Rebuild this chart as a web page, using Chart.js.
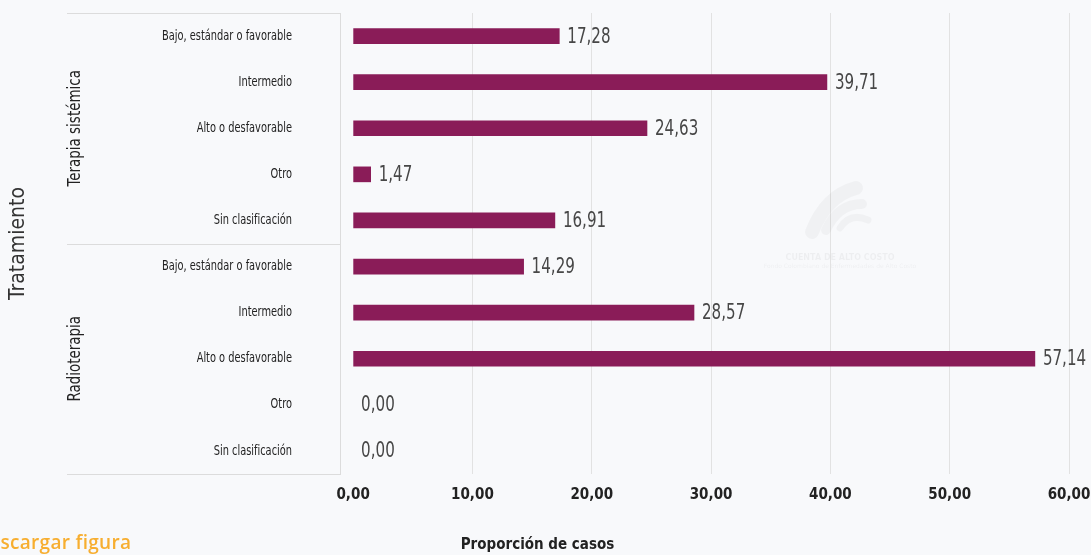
<!DOCTYPE html>
<html lang="es">
<head>
    <meta charset="UTF-8">
    <title>Proporción de casos por tratamiento</title>
    <!-- Chart.js -->
    <script src="https://cdn.jsdelivr.net/npm/chart.js"></script>
    <style>
        html, body {
            margin: 0;
            padding: 0;
            background: #f8f9fb;
        }
        .wrap {
            position: relative;
            width: 1091px;
            height: 555px;
            overflow: hidden;
        }
        .download {
            position: absolute;
            left: -25px;
            top: 529px;
            font-family: "Open Sans", sans-serif;
            font-weight: 600;
            font-size: 19px;
            letter-spacing: 0.3px;
            color: #f7ae30;
        }
    </style>
</head>
<body>
<div class="wrap">
    <canvas id="chart" width="1091" height="555"></canvas>
    <div class="download">Descargar figura</div>
</div>
<script>
    // Data
    const categories = [
        'Bajo, estándar o favorable', 'Intermedio', 'Alto o desfavorable', 'Otro', 'Sin clasificación',
        'Bajo, estándar o favorable', 'Intermedio', 'Alto o desfavorable', 'Otro', 'Sin clasificación'
    ];
    const groups = ['Terapia sistémica', 'Radioterapia'];
    const groupSize = 5;
    const values = [17.28, 39.71, 24.63, 1.47, 16.91, 14.29, 28.57, 57.14, 0.00, 0.00];
    const xTicks = [0, 10, 20, 30, 40, 50, 60];

    const narrow = '"DejaVu Sans Condensed", "Liberation Sans Narrow", sans-serif';
    const fmt = v => v.toFixed(2).replace('.', ',');

    // draw text squeezed horizontally (the original uses a very condensed face)
    function squeezed(ctx, text, x, y, sx, rotate) {
        ctx.save();
        ctx.translate(x, y);
        if (rotate) ctx.rotate(-Math.PI / 2);
        ctx.scale(sx, 1);
        ctx.fillText(text, 0, 0);
        ctx.restore();
    }

    // Bar value labels
    const valueLabels = {
        id: 'valueLabels',
        afterDatasetsDraw(chart) {
            const ctx = chart.ctx;
            const meta = chart.getDatasetMeta(0);
            ctx.save();
            ctx.font = '21px ' + narrow;
            ctx.fillStyle = '#474747';
            ctx.textAlign = 'left';
            ctx.textBaseline = 'middle';
            meta.data.forEach((bar, i) => {
                squeezed(ctx, fmt(values[i]), bar.x + 8, bar.y + 1, 0.8);
            });
            ctx.restore();
        }
    };

    // Category labels, group frame, group names, x title and faint watermark
    const groupFrame = {
        id: 'groupFrame',
        beforeDatasetsDraw(chart) {
            const ctx = chart.ctx;
            ctx.save();
            ctx.strokeStyle = 'rgba(0,0,0,0.03)';
            ctx.lineCap = 'round';
            [[0, 14], [1, 10], [2, 7]].forEach(([k, w]) => {
                ctx.lineWidth = w;
                ctx.beginPath();
                ctx.moveTo(812 + k * 14, 232 - k * 2);
                ctx.quadraticCurveTo(826 + k * 12, 196 + k * 8, 856 + k * 6, 188 + k * 16);
                ctx.stroke();
            });
            ctx.fillStyle = 'rgba(0,0,0,0.045)';
            ctx.font = 'bold 8px "DejaVu Sans", sans-serif';
            ctx.textAlign = 'center';
            ctx.fillText('CUENTA DE ALTO COSTO', 840, 260);
            ctx.font = '6px "DejaVu Sans", sans-serif';
            ctx.fillText('Fondo Colombiano de Enfermedades de Alto Costo', 840, 268);
            ctx.restore();
        },
        afterDraw(chart) {
            const ctx = chart.ctx;
            const area = chart.chartArea;
            const y = chart.scales.y;
            const left = area.left - 273;
            const bounds = [area.top];
            for (let g = 1; g < groups.length; g++) {
                bounds.push((y.getPixelForValue(g * groupSize - 1) + y.getPixelForValue(g * groupSize)) / 2);
            }
            bounds.push(area.bottom);

            ctx.save();
            ctx.strokeStyle = '#dcdcdc';
            ctx.lineWidth = 1;
            bounds.forEach(b => {
                ctx.beginPath();
                ctx.moveTo(left, Math.round(b) + 0.5);
                ctx.lineTo(area.left, Math.round(b) + 0.5);
                ctx.stroke();
            });

            // category labels
            ctx.fillStyle = '#222';
            ctx.font = '14px ' + narrow;
            ctx.textAlign = 'right';
            ctx.textBaseline = 'middle';
            categories.forEach((c, i) => {
                squeezed(ctx, c, area.left - 48, y.getPixelForValue(i), 0.78);
            });

            // group names
            ctx.font = '17px ' + narrow;
            ctx.textAlign = 'center';
            groups.forEach((name, g) => {
                squeezed(ctx, name, left + 9, (bounds[g] + bounds[g + 1]) / 2, 0.88, true);
            });

            ctx.font = 'bold 15px ' + narrow;
            ctx.fillText('Proporción de casos', chart.width / 2 - 8, 545);
            ctx.restore();
        }
    };

    const chart = new Chart(document.getElementById('chart'), {
        type: 'bar',
        data: {
            labels: categories,
            datasets: [{
                label: 'Proporción de casos',
                data: values,
                backgroundColor: ctx => values[ctx.dataIndex] === 0 ? 'rgba(0,0,0,0)' : '#8a1c58',
                barThickness: 15
            }]
        },
        options: {
            indexAxis: 'y',
            responsive: false,
            animation: false,
            layout: {
                autoPadding: false,
                padding: { top: 13, left: 6, right: 22, bottom: 0 }
            },
            plugins: {
                legend: { display: false },
                tooltip: { enabled: false }
            },
            scales: {
                x: {
                    type: 'linear',
                    min: -1.1,
                    max: 60,
                    afterBuildTicks: scale => {
                        scale.ticks = xTicks.map(v => ({ value: v }));
                    },
                    afterFit: scale => {
                        scale.height = 81;
                        scale.paddingLeft = 0;
                        scale.paddingRight = 0;
                    },
                    grid: {
                        color: ctx => ctx.tick && ctx.tick.value === 0 ? 'rgba(0,0,0,0)' : '#e2e2e2',
                        drawTicks: false
                    },
                    border: { display: false },
                    ticks: {
                        padding: 12,
                        maxRotation: 0,
                        color: '#222',
                        font: { family: narrow, size: 15, weight: 'bold' },
                        callback: v => fmt(v)
                    }
                },
                y: {
                    afterFit: scale => {
                        scale.width = 334;
                    },
                    grid: { display: false, drawTicks: false },
                    border: { display: true, color: '#dcdcdc' },
                    ticks: { display: false },
                    title: {
                        display: true,
                        text: 'Tratamiento',
                        color: '#333',
                        font: { family: narrow, size: 21 },
                        padding: 0
                    }
                }
            }
        },
        plugins: [valueLabels, groupFrame]
    });
</script>
</body>
</html>
